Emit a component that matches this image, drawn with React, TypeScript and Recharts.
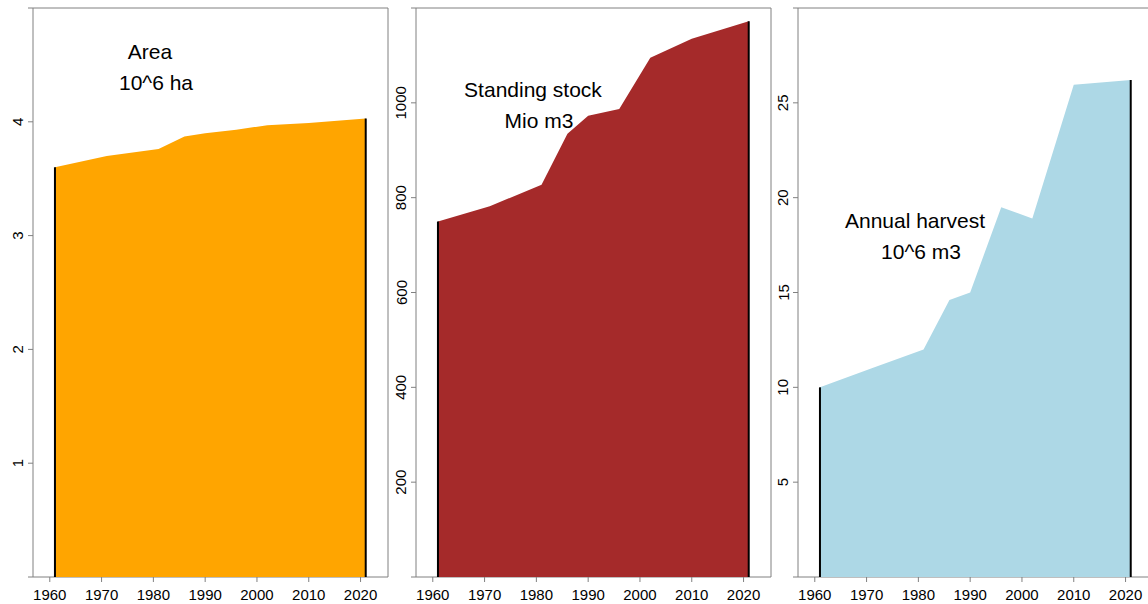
import { AreaChart, Area, XAxis, YAxis, ReferenceLine } from 'recharts'

// inventory years shared by all three panels
const years = [1961, 1971, 1981, 1986, 1990, 1996, 2002, 2010, 2021]

const areaValues = [3.6, 3.7, 3.76, 3.87, 3.9, 3.93, 3.97, 3.99, 4.03]
const stockValues = [750, 782, 827, 935, 973, 987, 1095, 1135, 1172]
const harvestValues = [10, 11, 12, 14.6, 15, 19.5, 18.9, 25.95, 26.2]

const yearTicks = [1960, 1970, 1980, 1990, 2000, 2010, 2020]
const areaTicks = [1, 2, 3, 4]
const stockTicks = [200, 400, 600, 800, 1000]
const harvestTicks = [5, 10, 15, 20, 25]

const areaTitle = ['Area', '10^6 ha']
const stockTitle = ['Standing stock', 'Mio m3']
const harvestTitle = ['Annual harvest', '10^6 m3']

const font = '"Liberation Sans", Arial, sans-serif'
const frame = '#808080'

function YTick({ x, y, payload }: any) {
  const cx = x - 2.5
  return (
    <text x={cx} y={y} transform={`rotate(-90 ${cx} ${y})`} textAnchor="middle" fontSize={15} fontFamily={font} fill="#000">
      {payload.value}
    </text>
  )
}

type PanelProps = {
  left: number
  values: number[]
  max: number
  ticks: number[]
  color: string
  title: string[]
  titleY: number
}

function Panel({ left, values, max, ticks, color, title, titleY }: PanelProps) {
  const data = years.map((year, i) => ({ year, value: values[i] }))
  const first = years[0]
  const last = years[years.length - 1]
  return (
    <div style={{ position: 'absolute', left, top: 0 }}>
      <AreaChart width={390} height={604} data={data} margin={{ top: 8, right: 2, bottom: 0, left: 0 }}>
        <XAxis
          dataKey="year"
          type="number"
          domain={[1956.76, 2025.3]}
          ticks={yearTicks}
          allowDataOverflow
          interval={0}
          height={27}
          axisLine={false}
          tickSize={5}
          tickMargin={7}
          tickLine={{ stroke: frame }}
          tick={{ fontSize: 15, fill: '#000', fontFamily: font }}
        />
        <YAxis
          type="number"
          domain={[0, max]}
          ticks={ticks}
          allowDataOverflow
          interval={0}
          width={33}
          axisLine={{ stroke: frame }}
          tickSize={5}
          tickLine={{ stroke: frame }}
          tick={<YTick />}
        />
        <Area
          dataKey="value"
          type="linear"
          baseValue={0}
          fill={color}
          fillOpacity={1}
          stroke="none"
          dot={false}
          activeDot={false}
          isAnimationActive={false}
        />
        <ReferenceLine segment={[{ x: first, y: 0 }, { x: first, y: values[0] }]} stroke="#000" strokeWidth={2} />
        <ReferenceLine segment={[{ x: last, y: 0 }, { x: last, y: values[values.length - 1] }]} stroke="#000" strokeWidth={2} />
        <line x1={28} y1={8} x2={388} y2={8} stroke={frame} />
        <line x1={388} y1={8} x2={388} y2={577} stroke={frame} />
        <line x1={28} y1={577} x2={388} y2={577} stroke={frame} />
        <text x={150} y={titleY} textAnchor="middle" fontSize={21} fontFamily={font} fill="#000">{title[0]}</text>
        <text x={156} y={titleY + 31} textAnchor="middle" fontSize={21} fontFamily={font} fill="#000">{title[1]}</text>
      </AreaChart>
    </div>
  )
}

export default function App() {
  return (
    <div style={{ position: 'fixed', left: 0, top: 0, width: 1148, height: 604, overflow: 'hidden', background: '#fff' }}>
      <Panel left={0} values={areaValues} max={5} ticks={areaTicks} color="#FFA500" title={areaTitle} titleY={59} />
      <Panel left={382.67} values={stockValues} max={1200} ticks={stockTicks} color="#A52A2A" title={stockTitle} titleY={97} />
      <Panel left={765.33} values={harvestValues} max={30} ticks={harvestTicks} color="#ADD8E6" title={harvestTitle} titleY={228} />
    </div>
  )
}
